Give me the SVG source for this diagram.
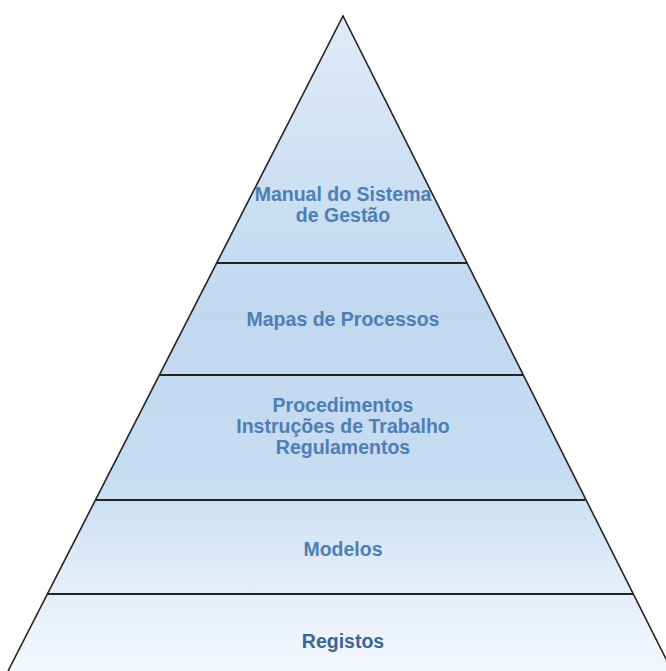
<svg xmlns="http://www.w3.org/2000/svg" width="666" height="671" viewBox="0 0 666 671">
<defs>
<linearGradient id="fill" gradientUnits="userSpaceOnUse" x1="0" y1="16" x2="0" y2="671">
<stop offset="0" stop-color="#e0ebf7"/>
<stop offset="0.2" stop-color="#d0e2f4"/>
<stop offset="0.45" stop-color="#c1d8f0"/>
<stop offset="0.7" stop-color="#c6dcf2"/>
<stop offset="0.85" stop-color="#e0ecf8"/>
<stop offset="1" stop-color="#f4f8fd"/>
</linearGradient>
</defs>
<style>
.lbl{font-family:"Liberation Sans",Arial,sans-serif;font-size:19.5px;font-weight:bold;fill:#4f7db5;text-anchor:middle}
.edge{fill:none;stroke:#222;stroke-width:1.6}
.div{stroke:#222;stroke-width:1.8}
</style>
<rect width="666" height="671" fill="#ffffff"/>
<g id="pyramid">
<polygon points="343,16 8,671 672,671" fill="url(#fill)"/>
</g>
<g id="connectors">
<line class="div" x1="217" y1="263" x2="467" y2="263"/>
<line class="div" x1="160" y1="375" x2="523" y2="375"/>
<line class="div" x1="96" y1="500" x2="585" y2="500"/>
<line class="div" x1="47" y1="594" x2="633" y2="594"/>
<polyline class="edge" points="8,671 343,16 672,671"/>
</g>
<g id="level-manual">
<text class="lbl" x="343" y="201">Manual do Sistema</text>
<text class="lbl" x="343" y="222">de Gestão</text>
</g>
<g id="level-mapas">
<text class="lbl" x="343" y="326">Mapas de Processos</text>
</g>
<g id="level-procedimentos">
<text class="lbl" x="343" y="412">Procedimentos</text>
<text class="lbl" x="343" y="433">Instruções de Trabalho</text>
<text class="lbl" x="343" y="454">Regulamentos</text>
</g>
<g id="level-modelos">
<text class="lbl" x="343" y="556">Modelos</text>
</g>
<g id="level-registos">
<text class="lbl" x="343" y="648" style="fill:#3d6594">Registos</text>
</g>
</svg>
